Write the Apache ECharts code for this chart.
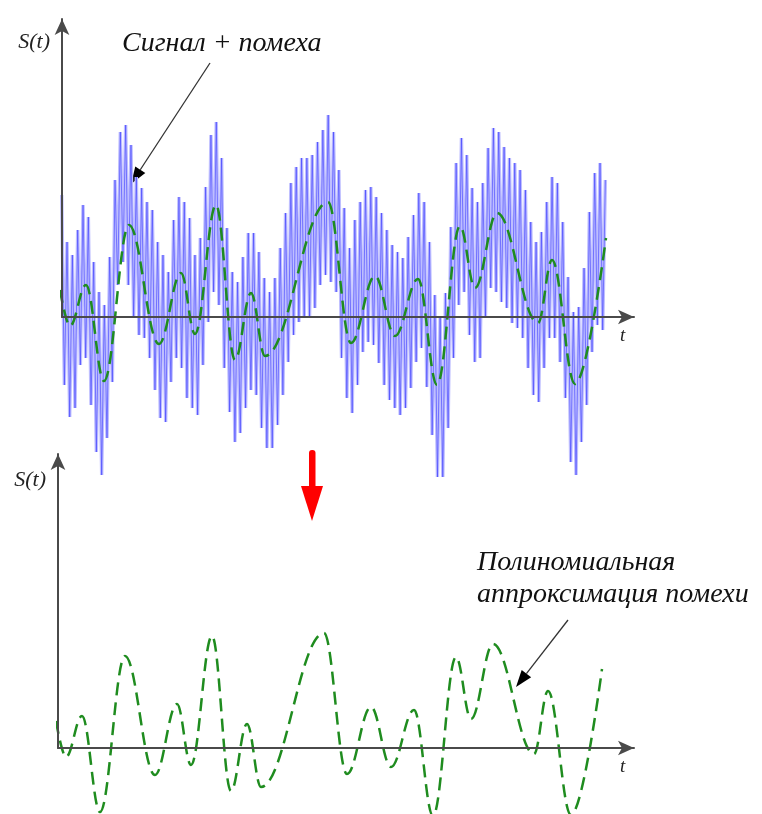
<!DOCTYPE html>
<html lang="ru">
<head>
<meta charset="utf-8">
<title>Сигнал + помеха</title>
<script src="https://cdn.jsdelivr.net/npm/echarts@6/dist/echarts.min.js"></script>
<style>
    html, body { margin: 0; padding: 0; background: #fff; }
    #chart { width: 762px; height: 814px; }
</style>
</head>
<body>
<div id="chart"></div>
<script>
    // upper tips of the noisy signal (px above the zero line), left to right
    var blueTops = [
        122, 75, 62, 87, 112, 100, 55, 25, 12, 60, 137, 185, 192, 172, 140, 129, 115, 107, 75, 62,
        45, 97, 120, 115, 99, 62, 79, 130, 182, 195, 159, 89, 45, 35,
        60, 84, 84, 65, 39, 25, 39, 69, 104, 134, 150, 159, 159, 162, 175, 187, 202, 185, 147, 109,
        69, 97, 115, 127, 130, 120, 104, 87, 72, 65, 59, 80, 102, 124,
        115, 75, 22, -1, 24, 90, 154, 179, 162, 129, 115, 134, 169, 189, 185, 170, 159, 154, 147, 127,
        95, 75, 85, 115, 140, 134, 95, 40, 5, 10, 49, 105, 144, 154, 137
    ];
    // lower tips, each one half a period after the matching top
    var blueBottoms = [
        -68, -100, -91, -48, -41, -88, -135, -158, -121, -65, 32, 55, 32, -1, -18, -21, -41, -73, -101, -105,
        -65, -41, -51, -81, -91, -98, -48, -5, 25, 12, -51, -95, -125,
        -116, -91, -73, -78, -111, -131, -131, -108, -78, -45, -18, -5, -1, -1, 9, 32, 42, 35, 25, -41,
        -81, -96, -68, -35, -25, -28, -46, -68, -83, -91, -98, -91, -71, -45,
        -31, -70, -118, -160, -160, -111, -41, 12, 25, -18, -45, -41, -1, 29, 25, 15, 9, -6, -11, -21,
        -51, -78, -85, -51, -21, -21, -45, -81, -145, -158, -125, -88, -35, -8, -13
    ];
    var blueStart = -0.3;
    var blueStep = 5.33;

    // interference curve: its peaks and troughs (t, value)
    var noiseT = [-2, 8, 24, 42, 67, 97, 119, 133, 154, 173, 189, 203, 266, 289, 313, 333,
                  356, 375, 398, 413, 435, 476, 490, 513, 544];
    var noiseV = [27, -9, 32, -64, 92, -27, 44, -17, 112, -43, 24, -39, 115, -26, 41, -19,
                  38, -68, 91, 29, 104, -6, 57, -67, 79];

    var signalData = [];
    for (var i = 0; i < blueTops.length; i++) {
        signalData.push([blueStart + i * blueStep, blueTops[i]]);
        if (i < blueBottoms.length) {
            signalData.push([blueStart + (i + 0.5) * blueStep, blueBottoms[i]]);
        }
    }
    var noiseData = noiseT.map(function (t, k) { return [t, noiseV[k]]; });

    var serif = '"Liberation Serif", "DejaVu Serif", serif';
    var axisColor = '#4a4a4a';
    var greenDash = { color: '#1f8c1f', width: 2.5, type: [13, 7] };

    function axisPair(idx, maxX, maxY, nameGapY) {
        return {
            x: {
                type: 'value', gridIndex: idx, min: 0, max: maxX, z: 5,
                axisLine: { onZero: false, symbol: ['none', 'arrow'], symbolSize: [11, 16],
                    lineStyle: { color: axisColor, width: 2 } },
                axisTick: { show: false }, axisLabel: { show: false }, splitLine: { show: false },
                name: 't', nameLocation: 'end', nameGap: -14,
                nameTextStyle: { fontFamily: serif, fontStyle: 'italic', fontSize: 19, color: '#222',
                    verticalAlign: 'top', padding: [9, 0, 0, 0] }
            },
            y: {
                type: 'value', gridIndex: idx, min: 0, max: maxY, z: 5,
                axisLine: { onZero: false, symbol: ['none', 'arrow'], symbolSize: [11, 16],
                    lineStyle: { color: axisColor, width: 2 } },
                axisTick: { show: false }, axisLabel: { show: false }, splitLine: { show: false },
                name: 'S(t)', nameLocation: 'end', nameGap: nameGapY,
                nameTextStyle: { fontFamily: serif, fontStyle: 'italic', fontSize: 22, color: '#222',
                    align: 'right', padding: [0, 12, 0, 0] }
            }
        };
    }

    var topAxes = axisPair(0, 572, 298, -34);
    var botAxes = axisPair(1, 576, 294, -37);

    // small helper: annotation arrow from (x1,y1) to tip (x2,y2)
    function pointer(x1, y1, x2, y2) {
        var dx = x2 - x1, dy = y2 - y1;
        var len = Math.sqrt(dx * dx + dy * dy);
        var ux = dx / len, uy = dy / len;
        var hl = 17, hw = 6;
        var bx = x2 - ux * hl, by = y2 - uy * hl;
        return [
            { type: 'line', shape: { x1: x1, y1: y1, x2: bx, y2: by },
              style: { stroke: '#333', lineWidth: 1.3 } },
            { type: 'polygon', shape: { points: [[x2, y2], [bx - uy * hw, by + ux * hw], [bx + uy * hw, by - ux * hw]] },
              style: { fill: '#000' } }
        ];
    }

    var graphics = [
        { type: 'text', left: 122, top: 30,
          style: { text: 'Сигнал + помеха', font: 'italic 28px ' + serif, fill: '#111' } },
        { type: 'text', left: 477, top: 547,
          style: { text: 'Полиномиальная\nаппроксимация помехи', font: 'italic 28px ' + serif,
                   fill: '#111', lineHeight: 32 } },
        // red arrow between the panels
        { type: 'rect', shape: { x: 309, y: 450, width: 6.5, height: 40, r: 3 }, style: { fill: '#ff0000' } },
        { type: 'polygon', shape: { points: [[301, 486], [323, 486], [312, 521]] }, style: { fill: '#ff0000' } }
    ].concat(pointer(210, 63, 131, 184), pointer(568, 620, 516, 687));

    var option = {
        backgroundColor: '#fff',
        animation: false,
        grid: [
            { left: 62, top: 19, width: 572, height: 298 },
            { left: 58, top: 454, width: 576, height: 294 }
        ],
        xAxis: [topAxes.x, botAxes.x],
        yAxis: [topAxes.y, botAxes.y],
        graphic: graphics,
        series: [
            {
                name: 'signal-halo', type: 'line', xAxisIndex: 0, yAxisIndex: 0,
                data: signalData, showSymbol: false, clip: false, z: 1, silent: true,
                lineStyle: { color: '#bebeff', width: 3.4 }
            },
            {
                name: 'signal', type: 'line', xAxisIndex: 0, yAxisIndex: 0,
                data: signalData, showSymbol: false, clip: false, z: 2,
                lineStyle: { color: '#4646ff', width: 0.8, opacity: 0.8 }
            },
            {
                name: 'noise', type: 'line', xAxisIndex: 0, yAxisIndex: 0,
                data: noiseData, showSymbol: false, clip: false, smooth: 0.38, smoothMonotone: 'x', z: 3,
                lineStyle: greenDash
            },
            {
                name: 'fit', type: 'line', xAxisIndex: 1, yAxisIndex: 1,
                data: noiseData, showSymbol: false, clip: false, smooth: 0.38, smoothMonotone: 'x', z: 3,
                lineStyle: greenDash
            }
        ]
    };

    var myChart = echarts.init(document.getElementById('chart'));
    myChart.setOption(option);
</script>
</body>
</html>
